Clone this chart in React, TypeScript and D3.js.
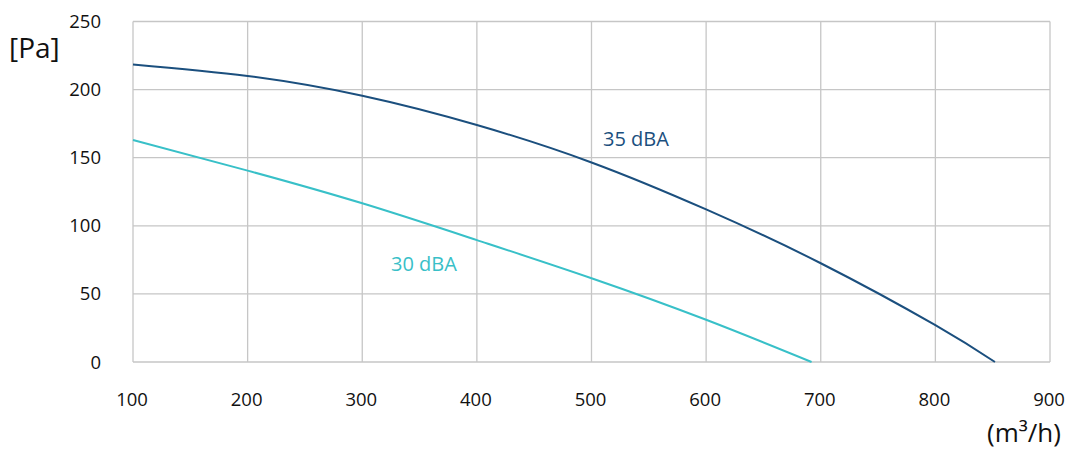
import React from "react";
import * as d3 from "d3";

const xTicks = [100, 200, 300, 400, 500, 600, 700, 800, 900];
const yTicks = [0, 50, 100, 150, 200, 250];
const flow35 = [100, 200, 300, 400, 500, 600, 700, 800, 852];
const pa35 = [218.5, 210, 195.5, 174, 146.5, 112, 72.5, 27, 0];
const flow30 = [100, 200, 300, 400, 500, 600, 692];
const pa30 = [163, 140.5, 116.5, 89.5, 61.5, 31, 0];

const W = 1067, H = 452;
const left = 133, right = 1050, top = 21.5, bottom = 362;
const font = "'Open Sans', 'Noto Sans', sans-serif";

export default function App() {
  const x = d3.scaleLinear().domain([100, 900]).range([left, right]);
  const y = d3.scaleLinear().domain([0, 250]).range([bottom, top]);
  const line = d3.line<[number, number]>().x(d => x(d[0])).y(d => y(d[1])).curve(d3.curveNatural);
  const d35 = line(flow35.map((f, i) => [f, pa35[i]] as [number, number]))!;
  const d30 = line(flow30.map((f, i) => [f, pa30[i]] as [number, number]))!;
  return (
    <svg width={W} height={H} style={{ position: "absolute", left: 0, top: 0 }}>
      <rect width={W} height={H} fill="#fff" />
      {xTicks.map(t => (
        <line key={"gx" + t} x1={x(t)} x2={x(t)} y1={top} y2={bottom} stroke="#c6c6c6" strokeWidth={1.3} />
      ))}
      {yTicks.map(t => (
        <line key={"gy" + t} x1={left} x2={right} y1={y(t)} y2={y(t)} stroke="#c6c6c6" strokeWidth={1.3} />
      ))}
      <path d={d30} fill="none" stroke="#38c0c8" strokeWidth={2} />
      <path d={d35} fill="none" stroke="#1b4f7e" strokeWidth={2} />
      {yTicks.map(t => (
        <text key={"yl" + t} x={101} y={y(t) + 6.5} textAnchor="end" fontFamily={font} fontSize={18.5} fill="#111">{t}</text>
      ))}
      {xTicks.map(t => (
        <text key={"xl" + t} x={x(t) - 1} y={406} textAnchor="middle" fontFamily={font} fontSize={18.5} fill="#111">{t}</text>
      ))}
      <text x={9} y={58} fontFamily={font} fontSize={28} fill="#111">[Pa]</text>
      <text x={1061} y={442} textAnchor="end" fontFamily={font} fontSize={26} fill="#111">(m³/h)</text>
      <text x={603} y={146} fontFamily={font} fontSize={20} fill="#1b4f7e">35 dBA</text>
      <text x={391} y={271} fontFamily={font} fontSize={20} fill="#38c0c8">30 dBA</text>
    </svg>
  );
}
